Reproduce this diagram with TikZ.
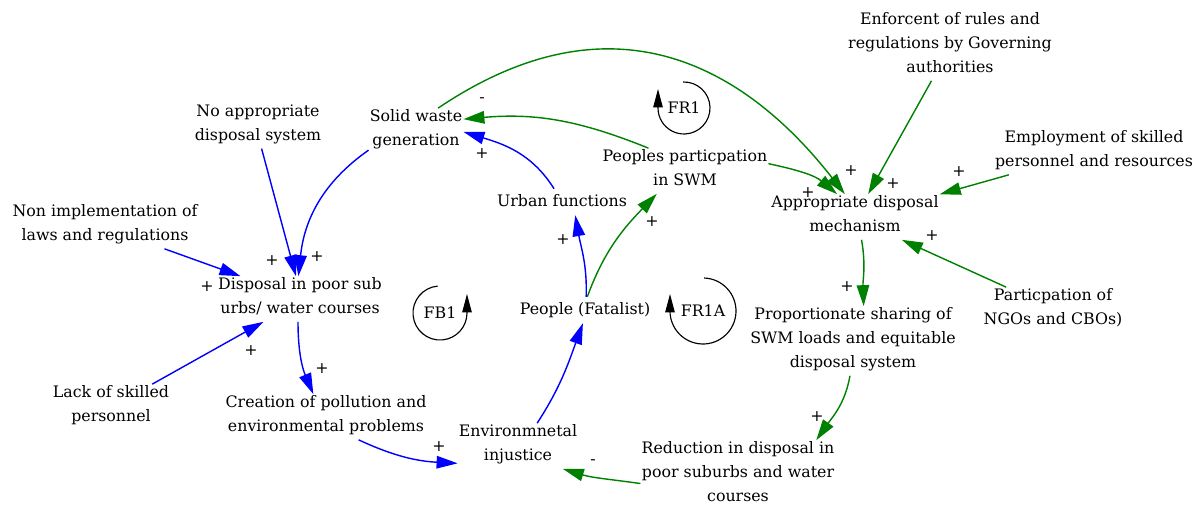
\documentclass[tikz,border=0pt]{standalone}
\usepackage{fontspec}
\setmainfont{DejaVu Serif}
\usetikzlibrary{arrows.meta}
\definecolor{linkblue}{RGB}{0,0,255}
\definecolor{linkgreen}{RGB}{0,128,0}
\begin{document}
\begin{tikzpicture}[x=0.02cm,y=0.02cm,
  txt/.style={font=\rmfamily\fontsize{9.0pt}{13.66pt}\selectfont},
  var/.style={txt, align=center, inner sep=0.5pt,
    execute at begin node=\strut, execute at end node=\strut},
  pol/.style={txt, inner sep=0pt},
  lk/.style={line width=0.8pt, -{Triangle[length=0.42cm,width=0.25cm]}},
  bl/.style={lk, color=linkblue},
  gr/.style={lk, color=linkgreen},
  loopar/.style={line width=0.65pt, -{Triangle[length=0.37cm,width=0.19cm]}}]
\useasboundingbox (0,0) rectangle (1197,507);

% variables
\node[var] (sw)   at (416,376)  {Solid waste\\generation};
\node[var] (nads) at (258,381)  {No appropriate\\disposal system};
\node[var] (nil)  at (105,281)  {Non implementation of\\laws and regulations};
\node[var] (dps)  at (300,208)  {Disposal in poor sub\\urbs/ water courses};
\node[var] (lsp)  at (111,100)  {Lack of skilled\\personnel};
\node[var] (cpe)  at (326,90)   {Creation of pollution and\\environmental problems};
\node[var] (ei)   at (518,61)   {Environmnetal\\injustice};
\node[var] (uf)   at (562,305)  {Urban functions};
\node[var] (pp)   at (685,336)  {Peoples particpation\\in SWM};
\node[var] (pf)   at (585,197)  {People (Fatalist)};
\node[var] (enf)  at (950,461)  {Enforcent of rules and\\regulations by Governing\\authorities};
\node[var] (emp)  at (1094,355) {Employment of skilled\\personnel and resources};
\node[var] (adm)  at (855,290)  {Appropriate disposal\\mechanism};
\node[var] (ngo)  at (1053,197) {Particpation of\\NGOs and CBOs)};
\node[var] (psl)  at (853,166)  {Proportionate sharing of\\SWM loads and equitable\\disposal system};
\node[var] (red)  at (738,32)   {Reduction in disposal in\\poor suburbs and water\\courses};

% blue links
\draw[bl] (sw.202) to[out=215,in=84] (dps.94);
\draw[bl] (nads.-81) -- (dps.100);
\draw[bl] (nil.-21) -- (dps.159);
\draw[bl] (lsp.29) -- (dps.212);
\draw[bl] (dps.-95) to[out=-90,in=113] (cpe.119);
\draw[bl] (cpe.-35) to[out=-25,in=177] (ei.196);
\draw[bl] (ei.50) to[out=57,in=-110] (pf.-99);
\draw[bl] (pf.85) to[out=88,in=-80] (uf.-45);
\draw[bl] (uf.121) to[out=122,in=-17] (sw.-1);

% green links
\draw[gr] (pf.80) to[out=70,in=-134] (pp.219);
\draw[gr] (pp.148) to[out=158,in=5] (sw.14);
\draw[gr] (sw.46) .. controls +(34:220) and +(128:150) .. (adm.114);
\draw[gr] (pp.5) to[out=-12,in=140] (adm.128);
\draw[gr] (enf.242) -- (adm.60);
\draw[gr] (emp.195) -- (adm.15);
\draw[gr] (ngo.154) -- (adm.-26);
\draw[gr] (adm.-74) to[out=-80,in=92] (psl.73);
\draw[gr] (psl.-95) to[out=-100,in=55] (red.24);
\draw[gr] (red.185) to[out=172,in=-17] (ei.-27);

% polarities
\node[pol] (s1)  at (482,353) {+};
\node[pol] (s2)  at (482,407) {-};
\node[pol] (s3)  at (272,246) {+};
\node[pol] (s4)  at (317,250) {+};
\node[pol] (s5)  at (207,220) {+};
\node[pol] (s6)  at (251,156) {+};
\node[pol] (s7)  at (322,138) {+};
\node[pol] (s8)  at (439,60)  {+};
\node[pol] (s9)  at (563,267) {+};
\node[pol] (s10) at (652,285) {+};
\node[pol] (s11) at (593,45)  {-};
\node[pol] (s12) at (851,336) {+};
\node[pol] (s13) at (808,314) {+};
\node[pol] (s14) at (893,323) {+};
\node[pol] (s15) at (959,335) {+};
\node[pol] (s16) at (932,271) {+};
\node[pol] (s17) at (847,220) {+};
\node[pol] (s18) at (817,90)  {+};

% loop markers
\node[txt, inner sep=0pt] (fb1) at (440,194) {FB1};
\draw[loopar] ([shift={(95:27)}]fb1.center) arc[start angle=95,end angle=360,radius=27] -- ++(0,19);
\node[txt, inner sep=0pt] (fr1) at (684,399) {FR1};
\draw[loopar] ([shift={(92:26)}]fr1.center) arc[start angle=92,end angle=-180,radius=26] -- ++(0,19);
\node[txt, inner sep=0pt] (fr1a) at (703,196) {FR1A};
\draw[loopar] ([shift={(88:33)}]fr1a.center) arc[start angle=88,end angle=-180,radius=33] -- ++(0,17);
\end{tikzpicture}
\end{document}
